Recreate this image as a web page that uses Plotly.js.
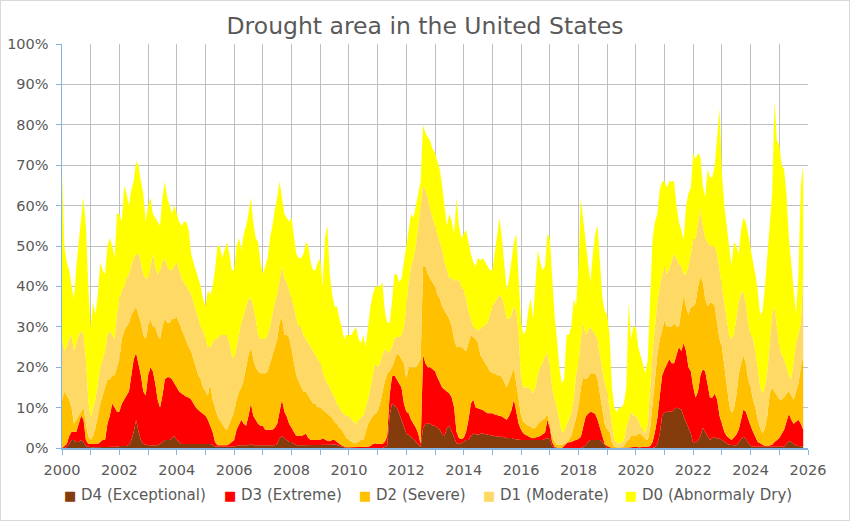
<!DOCTYPE html>
<html>
<head>
<meta charset="utf-8">
<script src="https://cdn.plot.ly/plotly-3.0.1.min.js"></script>
<style>
  body { margin: 0; background: #fff; }
  #chart { width: 848px; height: 519px; border: 1px solid #d9d9d9; }
</style>
</head>
<body>
<div id="chart"></div>
<script>
const startYear = 2000;

// % of the US in drought, read once a month, cumulative from the worst class up
const areaD0toD4 = [
  68, 50, 46, 44, 40, 37, 45, 52, 57, 62, 55, 40, // 2000
  30, 36, 33, 38, 46, 44, 43, 50, 52, 50, 47, 58,
  58, 56, 65, 63, 60, 64, 66, 71, 70, 66, 63, 56,
  60, 62, 58, 57, 56, 55, 62, 66, 62, 60, 58, 60,
  58, 56, 55, 56, 56, 54, 48, 46, 44, 42, 40, 37,
  35, 39, 38, 40, 44, 50, 50, 47, 49, 51, 48, 44, // 2005
  44, 50, 52, 49, 53, 55, 58, 62, 56, 52, 51, 46,
  43, 45, 47, 52, 55, 59, 62, 66, 62, 58, 57, 56,
  57, 52, 48, 47, 47, 48, 51, 50, 46, 44, 44, 46,
  47, 40, 52, 55, 43, 38, 35, 35, 32, 30, 27, 28,
  28, 28, 29, 30, 27, 26, 28, 25, 30, 35, 38, 40, // 2010
  40, 40, 41, 34, 31, 31, 36, 43, 43, 41, 42, 46,
  50, 55, 58, 57, 60, 63, 66, 80, 78, 77, 76, 74,
  73, 71, 69, 65, 60, 55, 58, 56, 53, 62, 55, 52,
  53, 54, 51, 48, 46, 45, 47, 46.5, 47, 46, 45, 44,
  44, 48, 52, 57, 52, 45, 39, 42, 46, 51, 53, 42, // 2015
  31, 28, 29, 34, 37, 32, 40, 49, 46, 44, 45, 53,
  52, 42, 33, 27, 20, 16, 17, 28, 28, 30, 37, 35,
  45, 62, 56, 51, 46, 41, 48, 53, 55, 46, 37, 34,
  33, 28, 15, 10, 9, 10, 10, 11, 15, 36, 27, 30,
  30, 25, 23, 21, 18.5, 22, 38, 52, 56, 58, 64, 66, // 2020
  66, 64.5, 66, 66, 66, 60, 56, 54, 51.5, 60, 63, 64.5,
  73, 71.5, 73, 72, 65, 62, 69, 67, 67, 70, 78, 84,
  68, 60, 55, 50, 45, 51, 50, 48, 54, 57, 56, 53,
  49, 46, 43, 39, 33, 34, 40, 47, 54, 63, 86, 76,
  75, 70, 69, 63, 52, 45, 38, 33, 43, 65, 70 // 2025
];

const areaD1toD4 = [
  27, 24, 25, 27, 28, 24, 26, 28, 29, 28, 22, 12,
  7, 10, 12, 16, 20, 22, 24, 28, 29, 28, 27, 33,
  37, 39, 40, 42, 43, 45, 47, 48, 48, 46, 43, 42,
  42, 45, 48, 45, 43, 44, 46, 47, 45, 44, 44, 45,
  46, 44, 42, 41, 40, 39, 38, 36, 34, 32, 30, 29,
  27, 25, 25, 26, 27, 27, 28, 28, 28, 28, 26, 23,
  22, 25, 28, 31, 33, 35, 37, 37, 35, 32, 28, 27,
  27, 27, 28, 30, 33, 36, 38, 42, 45, 42, 41, 39,
  37, 35, 32, 30, 30, 28, 27, 26, 25, 24, 23, 22,
  21, 19, 17, 16, 15, 13.5, 12.5, 11, 10, 9, 8.5, 8,
  7.8, 7, 6.5, 6, 7, 7.5, 8, 10, 12, 15, 18, 21,
  20, 21, 23, 24.5, 24, 23.5, 25, 27, 27.5, 27.5, 28, 30,
  35, 41, 45, 47, 50, 55, 60, 65, 64, 62, 59, 57,
  55, 53, 51.5, 49, 46, 44, 42, 42, 41.5, 41.5, 41.5, 40,
  39, 37, 34, 32, 30, 29.5, 29, 29.5, 30, 30.5, 31, 33,
  35, 36, 37, 38, 37, 35, 32, 32, 33, 35, 34, 28,
  17, 15, 15, 15, 14.5, 13.5, 15, 18, 20, 21.5, 22.5, 23.5,
  20, 15, 12, 10, 7, 4, 4, 5.3, 7, 8.6, 12, 18,
  21, 27, 31, 28, 29, 30, 29, 28, 27, 23, 19, 16,
  14, 10, 5, 2, 1.2, 1.2, 1.2, 2, 5, 7, 9, 8,
  8, 7, 5.3, 4.5, 3.6, 6, 15, 24, 30, 36, 40, 43,
  45, 43, 44.5, 46, 48, 47, 45.5, 45, 43, 43, 45, 48,
  51.5, 52, 56, 59, 55, 52, 51, 50, 50, 50, 48, 44,
  40, 36, 32, 28, 27, 28, 32, 36, 38.5, 38.5, 36, 31,
  28, 27, 24, 19, 15, 13.5, 15, 19, 26, 33, 35, 30,
  25, 23, 22, 20, 18, 17, 21, 26, 28, 31, 43
];

const areaD2toD4 = [
  12, 14, 13, 12, 10, 6, 7, 8, 9, 10, 6, 3,
  2, 3, 5, 8, 11, 13, 15, 17, 17, 18, 18, 20,
  22, 27, 29, 30, 31, 33, 34, 35, 33, 31, 28, 27,
  30, 32, 30, 30, 28, 27, 30, 32, 31, 31, 32, 32,
  32.5, 31, 29, 28, 26, 25, 24, 22, 20, 18, 17, 15,
  14, 13, 16, 12, 10, 8, 7, 6, 5, 4.5, 6, 8,
  9, 12, 14, 15, 17, 20, 23, 25, 22, 20, 19, 18.5,
  18.5, 18.5, 19, 21, 23, 25, 27, 31, 32.5, 28, 28, 27.5,
  24, 21, 18, 16.5, 15, 14, 14, 13, 12, 11, 11, 10,
  10, 9.4, 9, 8.5, 8, 7.5, 6.5, 6, 5, 4.5, 3.5, 2.5,
  2, 1.5, 1.2, 1.2, 1.5, 2, 2, 4, 6, 7, 8, 8.5,
  9, 11, 14, 16.5, 18.5, 19, 20, 22, 23.4, 23, 22, 21,
  17, 20, 20, 20, 20, 21, 22, 45, 45, 43, 42, 41,
  40, 38, 37, 35, 34, 33, 32, 30, 27, 25, 25, 25,
  24.5, 24, 26, 28, 27.5, 27, 26, 23, 22, 21, 20, 19,
  18.5, 18.5, 18, 18, 17.5, 16, 15, 16.5, 18.5, 20, 16, 12,
  8, 6.5, 6, 5.5, 5.3, 4.8, 5, 6, 6.5, 7, 7.5, 8.5,
  6, 3, 1.5, 0.8, 0.7, 0.8, 1, 1.3, 2, 3, 5, 7.5,
  10, 15, 17.5, 17, 17.5, 18.5, 18.5, 18.5, 17, 13, 9, 6,
  4.5, 4, 1.5, 0.3, 0.2, 0.2, 0.2, 0.5, 1.5, 2, 3, 3,
  3, 3.6, 3.6, 3, 2.2, 2, 5, 11, 17, 23, 27, 29,
  31.5, 30, 30, 30, 31, 30, 30, 34, 38, 35, 33, 35,
  35, 36, 40, 42.5, 41, 37, 35, 36, 36, 35, 31, 27,
  25, 20, 15, 11, 8.6, 9.5, 13, 18, 21, 23, 21, 17,
  15, 12, 10, 7, 5, 3.6, 5, 8, 13.5, 15, 14, 13,
  12, 12, 12.5, 13.5, 14, 13, 12, 14, 16, 20, 23
];

const areaD3toD4 = [
  0, 0.5, 1, 3, 4, 4, 4, 6, 8, 7, 2, 1,
  1, 1, 1, 1, 1.5, 2, 2, 6, 8, 11, 10, 9,
  9, 11, 12, 13, 14, 18, 22, 23.5, 21, 18, 14, 13,
  18, 20, 19, 16, 12, 10, 13, 17, 17.5, 17.5, 17, 16,
  15, 14, 13.5, 13, 12.7, 12.5, 12, 11, 10, 9.4, 9, 8.5,
  8, 7, 5.5, 4, 1.5, 0.7, 0.7, 0.7, 0.7, 0.7, 1, 1.5,
  2, 4.5, 6, 7, 6, 5.5, 8, 11, 8, 7, 6, 5.5,
  5.5, 4.5, 4.5, 4.5, 4.5, 5, 6, 9, 12, 9, 7.8, 6,
  5, 4, 3, 3, 3, 3.2, 3.6, 2.5, 2, 2, 2, 2,
  2, 2.4, 2, 1.8, 1.7, 2, 2, 1.5, 1, 0.6, 0.4, 0.2,
  0.2, 0.2, 0.2, 0.2, 0.2, 0.2, 0.2, 0.2, 0.3, 0.5, 1, 1.2,
  1, 1, 1, 1.5, 3, 13, 17.7, 18, 17, 16, 15, 11,
  9, 8.6, 7, 6, 5, 3.6, 1, 23, 21, 20, 20, 19.5,
  19, 17.5, 16, 15, 14.5, 14, 13.5, 12.5, 10, 4, 2.5, 2.2,
  2.5, 4, 7, 11, 12, 10, 9.8, 9.6, 9.4, 9, 8.6, 8.6,
  8.6, 8.3, 8.2, 8, 7.8, 7.5, 7, 8, 9.4, 12, 9, 6,
  4.5, 3.6, 3.2, 2.8, 2.6, 2.4, 2.6, 2.8, 3, 3.4, 3.8, 7,
  5, 1.5, 0.3, 0.1, 0, 0, 0.5, 1.2, 1.4, 1.5, 1.8, 2,
  2.2, 2.8, 5, 7.8, 8.5, 9, 8.8, 8.5, 7, 5, 2.5, 1,
  0.5, 0.3, 0, 0, 0, 0, 0, 0, 0, 0.1, 0.2, 0.3,
  0.3, 0.2, 0.2, 0.2, 0.2, 0.3, 0.5, 1.5, 4, 7.5, 13, 18,
  19.5, 21, 22, 21, 21, 23, 25, 24, 26, 24, 20, 19,
  15, 12.5, 14, 18, 19.5, 19, 16, 12.5, 12.5, 13.5, 12, 8,
  6, 4, 3, 2.5, 2, 2.6, 3.3, 4.5, 7, 9.5, 9, 7,
  5.5, 4, 2.8, 1.5, 1.2, 0.8, 0.5, 0.5, 0.6, 0.8, 1.5, 2,
  2.5, 3.5, 4.5, 6.5, 8.5, 7, 6, 6.5, 7, 6, 4.5
];

const areaD4 = [
  0, 0, 0.3, 1, 2, 2, 1.5, 1.5, 2, 1.5, 0.5, 0.3,
  0.2, 0.2, 0.2, 0.2, 0.2, 0.2, 0.3, 0.3, 0.3, 0.3, 0.3, 0.3,
  0.5, 0.5, 0.5, 0.5, 0.8, 2, 4, 7, 4, 2, 1, 0.8,
  0.7, 0.7, 0.7, 0.7, 0.7, 1, 1.5, 2, 2, 2, 2.5, 3,
  2, 1.5, 1, 1, 1, 1, 1, 1, 1, 1, 1, 1,
  1, 1, 1, 0.8, 0.4, 0.3, 0.3, 0.3, 0.3, 0.3, 0.3, 0.3,
  0.3, 0.5, 0.7, 0.7, 0.7, 0.7, 0.7, 1, 0.7, 0.7, 0.7, 0.7,
  0.7, 0.7, 0.7, 0.7, 0.7, 0.7, 1, 2.5, 3, 2.5, 2, 1.5,
  1.5, 1, 0.7, 0.7, 0.7, 0.7, 0.7, 0.7, 0.7, 0.7, 0.7, 0.7,
  0.7, 0.7, 0.7, 0.7, 0.7, 0.8, 0.9, 0.7, 0.5, 0.3, 0.1, 0,
  0, 0, 0, 0, 0, 0, 0, 0, 0, 0, 0, 0,
  0, 0, 0, 0.3, 0.5, 8, 11, 10.5, 10, 8.6, 7, 5,
  3.6, 3.2, 2.8, 2.2, 1.5, 1, 0.3, 5, 6, 6, 6, 5.5,
  5.5, 5, 4.5, 3.5, 3, 5, 5.5, 4, 2.5, 1.2, 1, 1.2,
  1.5, 2, 2, 3, 3.6, 3.4, 3.3, 3.5, 3.6, 3.4, 3.3, 3.3,
  3.2, 3, 2.8, 2.8, 2.8, 2.6, 2.4, 2.5, 2.5, 2.2, 2.1, 2,
  2, 2, 2, 2, 2, 2, 2, 2, 2, 2, 2.2, 2.4,
  2.4, 0.5, 0.1, 0, 0, 0, 0, 0, 0, 0, 0, 0,
  0, 0, 0.3, 0.7, 1.5, 2, 2, 2, 2, 2, 1.5, 0.7,
  0, 0, 0, 0, 0, 0, 0, 0, 0, 0, 0, 0,
  0, 0, 0, 0, 0, 0, 0, 0, 0.2, 1, 3.5, 8,
  8.8, 9, 9, 9, 9.5, 10, 9.8, 9.5, 7.8, 6.5, 5, 3.6,
  1.2, 1.5, 1.8, 3, 5, 4, 3, 2, 2.5, 2.8, 2.2, 2.4,
  2, 1.5, 1.2, 0.8, 0.7, 0.7, 0.7, 1.3, 2.2, 2.8, 2.2, 1.3,
  0.5, 0.3, 0.3, 0.3, 0.3, 0.3, 0.3, 0.3, 0.3, 0.3, 0.3, 0.3,
  0.3, 0.3, 0.3, 1, 1.8, 1.5, 1, 0.6, 0.5, 0.4, 0.4
];

const categories = ['D4 (Exceptional)', 'D3 (Extreme)', 'D2 (Severe)', 'D1 (Moderate)', 'D0 (Abnormaly Dry)'];
const colors = ['#843C0C', '#FF0000', '#FFC000', '#FFD966', '#FFFF00'];

const months = areaD4.map((_, i) => startYear + i / 12);
const levels = [areaD4, areaD3toD4, areaD2toD4, areaD1toD4, areaD0toD4];

// each band fills down to the one below it
const traces = levels.map((y, i) => ({
  x: months,
  y: y,
  type: 'scatter',
  mode: 'lines',
  name: categories[i],
  line: { width: 0 },
  fill: i === 0 ? 'tozeroy' : 'tonexty',
  fillcolor: colors[i],
  hoverinfo: 'skip'
}));

const grey = '#595959';
const axisBlue = '#86B4E0';
const gridGrey = '#BFBFBF';

// legend row under the axis, square key + label (left edge of each key in paper units)
const keyLeft = [0.0005, 0.2145, 0.3955, 0.562, 0.752];
const legendNotes = categories.map((name, i) => ({
  xref: 'paper',
  yref: 'paper',
  x: keyLeft[i],
  y: -0.116,
  xanchor: 'left',
  yanchor: 'middle',
  showarrow: false,
  text: '<span style="color:' + colors[i] + ';font-size:13px">■</span> ' + name,
  font: { family: 'DejaVu Sans', size: 15, color: grey }
}));

const layout = {
  width: 848,
  height: 519,
  margin: { l: 61, r: 41, t: 43, b: 72 },
  paper_bgcolor: '#fff',
  plot_bgcolor: '#fff',
  font: { family: 'DejaVu Sans', color: grey, size: 14.5 },
  showlegend: false,
  title: {
    text: 'Drought area in the United States',
    font: { family: 'DejaVu Sans', size: 23.5, color: grey },
    x: 0.5,
    xanchor: 'center',
    y: 0.952,
    yanchor: 'middle'
  },
  xaxis: {
    range: [2000, 2026],
    tick0: 2000,
    dtick: 2,
    tickformat: 'd',
    ticks: 'outside',
    ticklen: 5,
    tickcolor: axisBlue,
    showline: true,
    linecolor: axisBlue,
    linewidth: 1.5,
    showgrid: true,
    gridcolor: gridGrey,
    gridwidth: 1,
    zeroline: false,
    ticklabelstandoff: 3,
    tickfont: { size: 14.5, color: grey },
    minor: { dtick: 1, showgrid: true, gridcolor: gridGrey, gridwidth: 1, ticks: 'outside', ticklen: 5, tickcolor: axisBlue }
  },
  yaxis: {
    range: [0, 100],
    dtick: 10,
    ticksuffix: '%',
    ticks: 'outside',
    ticklen: 5,
    tickcolor: axisBlue,
    showline: true,
    linecolor: axisBlue,
    linewidth: 1.5,
    showgrid: true,
    gridcolor: gridGrey,
    gridwidth: 1,
    zeroline: false,
    ticklabelstandoff: 4,
    tickfont: { size: 14.5, color: grey }
  },
  annotations: legendNotes
};

Plotly.newPlot('chart', traces, layout, { displayModeBar: false, staticPlot: true });
</script>
</body>
</html>
